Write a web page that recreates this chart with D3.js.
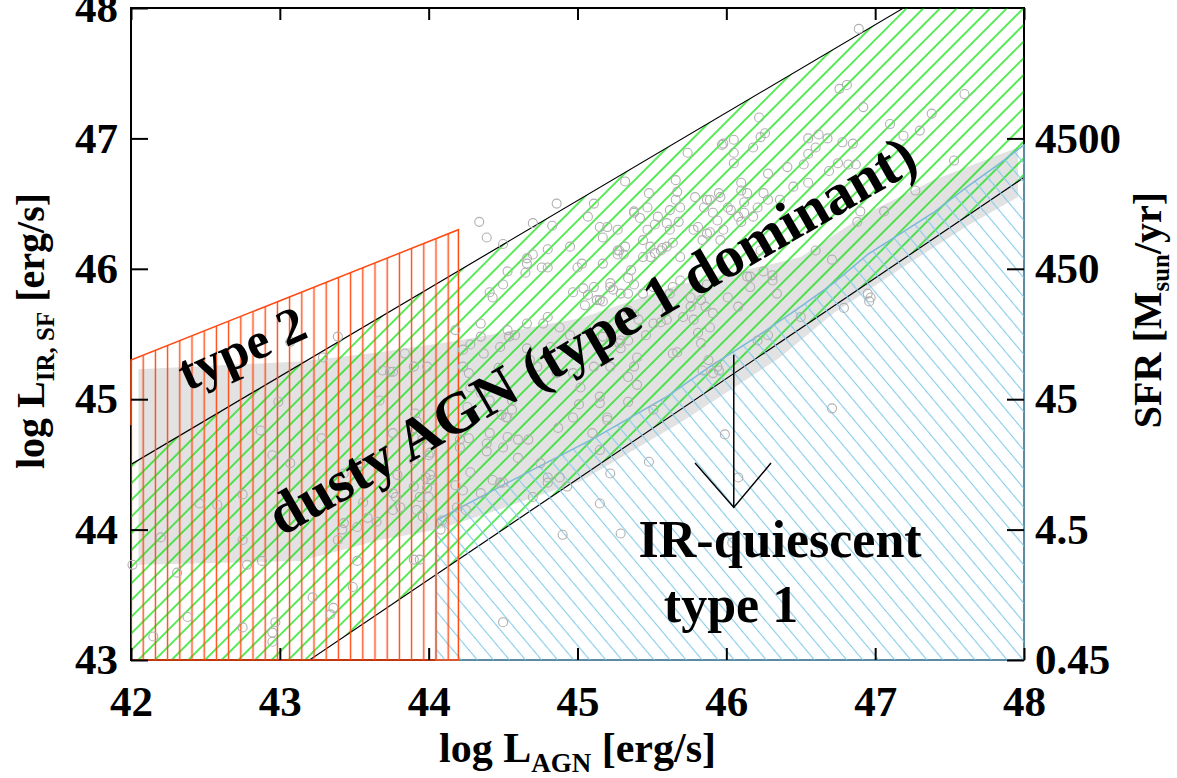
<!DOCTYPE html>
<html>
<head>
<meta charset="utf-8">
<script src="https://cdn.jsdelivr.net/npm/d3@7"></script>
<style>
body { margin: 0; background: #fff; }
text { font-family: "Liberation Serif", "Times New Roman", serif; font-weight: bold; }
</style>
</head>
<body>
<div id="chart"></div>
<script>
// axis ticks
var xTicks = [42, 43, 44, 45, 46, 47, 48];
var yTicks = [43, 44, 45, 46, 47, 48];
var sfrTicks = [0.45, 4.5, 45, 450, 4500];

// regions (log L_AGN, log L_IR,SF)
var type2Region = [[42, 43], [42, 45.3], [44.2, 46.3], [44.2, 43]];
var type2Outline = [[42, 44.8], [42, 45.3], [44.2, 46.3], [44.2, 43], [42, 43]];
var dustyRegion = [[42, 43], [42, 44.5], [47.19, 48], [48, 48], [48, 46.7], [43.2, 43]];
var quiescentCurve = [[44.05, 44.07], [44.48, 44.33], [45.11, 44.70], [45.31, 44.83], [45.60, 45.02],
  [45.89, 45.25], [46.18, 45.46], [46.50, 45.71], [46.72, 45.89], [46.95, 46.11], [47.17, 46.27],
  [47.39, 46.43], [47.62, 46.63], [47.84, 46.81], [48, 46.95]];
var quiescentCorners = [[48, 43], [44.05, 43]];

// grey band
var bandUpper = [[42.05, 45.23], [43.14, 45.29], [43.67, 45.36], [44.15, 45.44], [45.02, 45.62],
  [45.69, 45.88], [46.36, 46.05], [46.50, 46.09], [46.95, 46.43], [47.39, 46.68], [47.73, 46.83], [47.96, 46.93]];
var bandLower = [[47.96, 46.55], [47.62, 46.33], [47.17, 46.0], [46.72, 45.66], [46.36, 45.32],
  [45.69, 44.82], [45.02, 44.37], [44.41, 44.13], [44.06, 44.0], [43.67, 43.92], [43.14, 43.76], [42.05, 43.73]];

// sources
var sources = [
  [44.34,46.36],[44.39,46.24],[44.86,46.50],[44.70,46.35],[44.83,46.33],[44.50,46.19],[44.95,46.17],[45.07,46.40],
  [45.11,46.50],[45.32,46.67],[44.80,46.15],[44.66,46.08],[44.70,46.11],[44.66,46.04],[44.65,45.97],[44.76,46.01],
  [44.80,46.01],[44.53,45.98],[44.50,45.88],[44.41,45.82],[44.43,45.78],[45.00,46.01],[45.03,46.04],[44.97,45.82],
  [45.04,45.85],[45.07,45.80],[45.05,45.72],[45.13,45.76],[45.17,45.75],[45.11,45.86],[45.20,46.32],[45.27,46.30],
  [45.17,46.24],[45.22,45.89],[45.24,45.84],[45.28,46.14],[45.32,46.17],[45.31,46.11],[45.27,46.11],[45.38,46.43],
  [45.47,46.47],[45.54,46.40],[45.47,46.30],[45.52,46.34],[45.44,46.22],[45.49,46.17],[45.44,46.09],[45.49,46.09],
  [45.52,46.12],[45.36,45.99],[45.34,45.93],[45.38,45.88],[45.29,45.81],[45.34,45.81],[45.56,46.14],[45.60,46.17],
  [45.64,46.20],[45.62,46.45],[45.69,46.47],[45.67,46.59],[45.66,46.68],[45.74,46.89],[45.79,46.55],[45.85,46.47],
  [45.89,46.53],[45.96,46.55],[45.94,46.37],[45.98,46.30],[45.78,46.30],[45.89,46.28],[45.96,46.22],[45.97,46.95],
  [46.05,46.99],[46.05,46.89],[46.05,46.81],[46.10,46.66],[46.10,46.60],[46.12,46.51],[46.18,46.93],[46.23,47.01],
  [46.26,47.04],[46.28,46.73],[46.21,46.47],[46.18,46.40],[46.03,46.45],[46.08,46.40],[45.69,45.91],[45.64,45.86],
  [45.62,45.81],[45.83,45.76],[45.76,45.71],[45.86,45.71],[45.91,45.66],[46.08,45.71],[46.16,45.94],[46.25,45.98],
  [46.31,45.91],[46.34,45.81],[45.60,45.61],[45.56,45.59],[45.51,45.58],[45.38,45.65],[45.41,45.61],[45.46,45.49],
  [45.34,45.45],[45.28,45.43],[45.29,45.39],[45.81,45.51],[45.89,45.55],[45.64,45.35],[45.88,45.30],[46.21,45.45],
  [46.28,45.49],[45.91,45.20],[44.35,45.58],[44.35,45.48],[44.28,45.42],[44.23,45.38],[44.18,45.53],[44.53,45.53],
  [44.54,45.48],[44.48,45.40],[44.58,45.49],[44.66,45.58],[44.77,45.58],[44.80,45.63],[44.66,45.39],[44.82,45.40],
  [44.88,45.55],[44.95,45.49],[43.84,45.35],[43.74,45.21],[43.99,45.25],[44.23,45.25],[44.27,45.20],[44.68,45.30],
  [44.73,45.25],[44.47,45.24],
  [46.89,47.84],[46.76,47.38],[46.81,47.41],[46.92,47.24],[46.22,47.16],[47.60,47.34],[47.38,47.19],[47.10,47.11],
  [47.30,47.06],[47.19,47.02],[47.53,46.83],[47.27,46.60],[47.06,46.44],[46.90,46.44],[46.88,46.36],[46.55,47.00],
  [46.62,47.03],[46.68,47.00],[46.55,46.88],[46.60,46.93],[46.78,46.97],[46.85,46.96],[45.98,46.96],[46.41,46.78],
  [46.52,46.80],[46.69,46.75],[46.75,46.81],[46.82,46.80],[46.87,46.80],[46.55,46.66],[46.14,46.58],[46.25,46.58],
  [46.28,46.53],[46.36,46.53],[46.45,46.63],[45.48,46.58],[45.38,46.44],[45.42,46.39],[45.66,46.53],[45.87,46.53],
  [45.95,46.58],[45.91,46.43],[46.01,46.47],[46.12,46.43],[46.10,46.36],[45.62,46.30],[45.68,46.36],[45.84,46.22],
  [45.27,46.14],[45.57,46.16],[45.69,46.09],[45.81,46.32],[45.87,46.27],[46.60,46.14],[46.23,46.14],
  [45.15,46.32],[45.60,46.35],[45.17,46.04],[45.22,45.86],[45.44,45.81],[45.51,45.86],[45.34,45.68],[45.15,45.76],
  [45.17,45.48],[45.29,45.45],[45.40,45.32],[45.38,45.25],[45.22,45.25],[45.15,45.02],[45.20,44.86],[45.15,44.61],
  [45.60,45.68],[45.67,45.36],[45.76,45.78],[45.87,45.88],[46.01,45.78],[45.71,45.63],[45.78,45.61],[45.83,45.43],
  [45.94,45.25],[45.95,45.22],[46.14,45.94],[46.31,45.95],[46.16,45.86],[46.71,46.07],[46.50,45.63],[46.79,45.70],
  [46.95,45.81],[46.97,45.78],[46.96,45.75],[46.71,44.93],[45.99,44.73],[45.48,44.52],[45.22,44.43],
  [43.69,45.22],[43.76,45.21],[43.90,45.25],[43.76,44.74],[43.79,44.42],[43.78,44.25],[43.91,44.89],[43.92,44.83],
  [43.90,44.71],[43.96,44.69],[44.01,44.59],[43.90,44.53],[43.98,44.40],[44.01,44.42],[44.02,44.38],[43.99,44.32],
  [44.00,44.25],[43.92,44.15],[43.96,44.10],[43.90,44.33],[44.28,45.09],[44.26,44.94],[44.27,44.70],[44.21,44.69],
  [44.21,44.63],[44.28,44.44],[44.23,44.30],[44.19,44.17],[44.25,44.15],[44.09,44.07],[44.08,44.00],[43.90,43.77],
  [43.94,43.77],[44.35,45.05],[44.41,44.99],[44.37,45.35],[44.49,44.88],[44.52,44.86],[44.53,44.86],[44.56,44.99],
  [44.56,44.92],[44.41,44.74],[44.39,44.66],[44.50,44.63],[44.53,44.71],[44.60,44.69],[44.43,44.38],[44.50,44.36],
  [44.35,44.28],[44.60,44.55],[44.67,44.69],[44.75,44.51],[44.80,44.40],[44.80,44.36],[44.88,44.40],[44.93,44.33],
  [44.70,44.25],[44.87,44.78],[45.01,44.96],[44.97,44.86],[44.86,45.20],[44.97,45.20],[45.02,45.09],[45.11,45.25],
  [45.15,44.97],[45.10,44.74],[45.20,44.84],[45.34,45.17],[45.40,45.11],[45.34,44.98],[45.51,44.92],[45.84,45.22],
  [46.08,44.40],[45.15,44.20],[45.29,43.97],[44.90,43.96],[46.04,43.90],
  [42.01,43.73],[42.31,43.67],[42.15,43.18],[42.38,43.33],[42.75,43.25],[42.78,43.73],[42.88,43.76],[43.22,43.48],
  [43.36,43.40],[43.34,43.35],[43.49,43.56],[42.97,43.29],[42.95,43.21],[42.95,43.14],[43.52,43.76],[44.50,43.29],
  [43.39,45.48],[43.07,45.44],[43.29,45.32],[42.99,44.98],[43.67,44.99],[42.87,44.76],[43.28,44.70],[42.95,44.57],
  [43.07,44.51],[43.54,44.51],[43.43,44.43],[44.03,44.69],[44.39,44.60],[44.00,44.57],[44.18,44.34],[42.75,44.27],
  [42.46,44.20],[42.58,44.19],[43.76,44.28],[43.94,44.25],[43.76,44.15],[43.56,44.21],[43.43,44.05],[43.42,44.00],
  [43.52,44.02],[43.59,44.09],[43.81,44.17],[43.65,44.06],[43.39,43.92],[42.75,43.92],[42.20,43.94],[44.48,44.36]
];

// annotations
var arrowStem = [[46.05, 45.34], [46.05, 44.17]];
var arrowHead = [[45.79, 44.51], [46.05, 44.17], [46.30, 44.51]];

var W = 1177, H = 778;
var margin = { top: 8, left: 131 };
var w = 893, h = 652;

var svg = d3.select("#chart").append("svg")
  .attr("width", W)
  .attr("height", H);

var x = d3.scaleLinear().domain([42, 48]).range([0, w]);
var y = d3.scaleLinear().domain([43, 48]).range([h, 0]);
var sfr = d3.scaleLog().domain([0.45, 45000]).range([h, 0]);

var defs = svg.append("defs");

// hatch pattern: lines of given spacing, rotated
function hatch(id, size, angle, color, width, offset) {
  var p = defs.append("pattern")
    .attr("id", id)
    .attr("patternUnits", "userSpaceOnUse")
    .attr("x", offset || 0)
    .attr("width", size)
    .attr("height", size)
    .attr("patternTransform", "rotate(" + angle + ")");
  p.append("line")
    .attr("x1", size / 2).attr("x2", size / 2)
    .attr("y1", -1).attr("y2", size + 1)
    .style("stroke", color)
    .style("stroke-width", width);
}
hatch("greenHatch", 11.8, 45, "#00e000", 1.3);
hatch("blueHatch", 12.3, -40, "#86cbe8", 1.1);
hatch("orangeHatch", 12.2, 0, "#ff4a12", 1.4, 6.1);

var plot = svg.append("g")
  .attr("transform", "translate(" + margin.left + "," + margin.top + ")");

var line = d3.line().x(function(d) { return x(d[0]); }).y(function(d) { return y(d[1]); });

// frame
plot.append("rect")
  .attr("width", w)
  .attr("height", h)
  .style("fill", "none")
  .style("stroke", "black")
  .style("stroke-width", 2);

// grey band
plot.append("path")
  .attr("d", line(bandUpper.concat(bandLower)) + "Z")
  .style("fill", "#e2e2e2")
  .style("stroke", "none");

// dusty AGN region
plot.append("path")
  .attr("d", line(dustyRegion) + "Z")
  .style("fill", "url(#greenHatch)")
  .style("stroke", "black")
  .style("stroke-width", 1.2);

// IR-quiescent region
var quiescentRegion = quiescentCurve.concat(quiescentCorners);
plot.append("path")
  .attr("d", line(quiescentRegion) + "Z")
  .style("fill", "url(#blueHatch)")
  .style("stroke", "#7ab8d8")
  .style("stroke-width", 1.5);

// type 2 region
plot.append("path")
  .attr("d", line(type2Region) + "Z")
  .style("fill", "url(#orangeHatch)")
  .style("stroke", "none");
plot.append("path")
  .attr("d", line(type2Outline))
  .style("fill", "none")
  .style("stroke", "#ff4a12")
  .style("stroke-width", 1.5);

// sources
plot.selectAll("circle.src")
  .data(sources)
  .enter().append("circle")
  .attr("class", "src")
  .attr("cx", function(d) { return x(d[0]); })
  .attr("cy", function(d) { return y(d[1]); })
  .attr("r", 4.5)
  .style("fill", "none")
  .style("stroke", "#b0b0b0")
  .style("stroke-width", 1.1);

// axes
function styleAxis(g, size) {
  g.attr("font-family", null).attr("font-size", null);
  g.select(".domain").remove();
  g.selectAll(".tick line").style("stroke", "black").style("stroke-width", 2);
  g.selectAll("text").style("font-size", size + "px").style("fill", "black");
}

plot.append("g")
  .attr("transform", "translate(0," + h + ")")
  .call(d3.axisBottom(x).tickValues(xTicks).tickSize(-12).tickPadding(25).tickFormat(d3.format("d")))
  .call(styleAxis, 43);

plot.append("g")
  .call(d3.axisTop(x).tickValues(xTicks).tickSize(-12).tickFormat(""))
  .call(styleAxis, 43);

plot.append("g")
  .call(d3.axisLeft(y).tickValues(yTicks).tickSize(-17).tickPadding(13).tickFormat(d3.format("d")))
  .call(styleAxis, 43);

plot.append("g")
  .attr("transform", "translate(" + w + ",0)")
  .call(d3.axisRight(sfr).tickValues(sfrTicks).tickSize(-17).tickPadding(11).tickFormat(function(d) { return String(d); }))
  .call(styleAxis, 43);

// arrow
plot.append("path")
  .attr("d", line(arrowStem))
  .style("stroke", "black").style("stroke-width", 1.5).style("fill", "none");
plot.append("path")
  .attr("d", line(arrowHead))
  .style("stroke", "black").style("stroke-width", 1.5).style("fill", "none");

// region labels
function label(text, px, py, angle, size, anchor) {
  plot.append("text")
    .attr("transform", "translate(" + x(px) + "," + y(py) + ") rotate(" + angle + ")")
    .attr("text-anchor", anchor)
    .style("font-size", size + "px")
    .style("fill", "black")
    .text(text);
}
label("type 2", 42.79, 45.27, -24, 52, "middle");
label("dusty AGN (type 1 dominant)", 45.16, 45.36, -30, 58.5, "middle");
label("IR-quiescent", 45.41, 43.79, 0, 52, "start");
label("type 1", 45.58, 43.29, 0, 52, "start");

// axis titles
var xt = svg.append("text")
  .attr("x", margin.left + w / 2)
  .attr("y", 762)
  .attr("text-anchor", "middle")
  .style("font-size", "42px");
xt.append("tspan").text("log L");
xt.append("tspan").attr("dy", 10).style("font-size", "27px").text("AGN");
xt.append("tspan").attr("dy", -10).text(" [erg/s]");

var yt = svg.append("text")
  .attr("transform", "translate(44,331) rotate(-90)")
  .attr("text-anchor", "middle")
  .style("font-size", "40px");
yt.append("tspan").text("log L");
yt.append("tspan").attr("dy", 10).style("font-size", "25px").text("IR, SF");
yt.append("tspan").attr("dy", -10).text(" [erg/s]");

var rt = svg.append("text")
  .attr("transform", "translate(1161,310) rotate(-90)")
  .attr("text-anchor", "middle")
  .style("font-size", "40px");
rt.append("tspan").text("SFR [M");
rt.append("tspan").attr("dy", 8).style("font-size", "25px").text("sun");
rt.append("tspan").attr("dy", -8).text("/yr]");
</script>
</body>
</html>
